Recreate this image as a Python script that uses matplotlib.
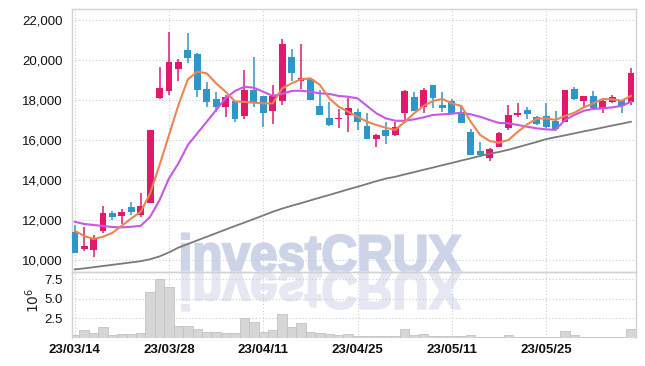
import numpy as np
import matplotlib
matplotlib.use('Agg')
import matplotlib.pyplot as plt
from matplotlib.ticker import FuncFormatter
from matplotlib.textpath import TextPath
from matplotlib.patches import PathPatch
from matplotlib.font_manager import FontProperties
from matplotlib.transforms import Affine2D

plt.rcParams['font.family'] = ['Liberation Sans', 'DejaVu Sans']

# Fechas de las sesiones (yy/mm/dd)
dates = ['23/03/14', '23/03/15', '23/03/16', '23/03/17', '23/03/20', '23/03/21', '23/03/22', '23/03/23', '23/03/24', '23/03/27',
         '23/03/28', '23/03/29', '23/03/30', '23/03/31', '23/04/03', '23/04/04', '23/04/05', '23/04/06', '23/04/07', '23/04/10',
         '23/04/11', '23/04/12', '23/04/13', '23/04/14', '23/04/17', '23/04/18', '23/04/19', '23/04/20', '23/04/21', '23/04/24',
         '23/04/25', '23/04/26', '23/04/27', '23/04/28', '23/05/02', '23/05/03', '23/05/04', '23/05/08', '23/05/09', '23/05/10',
         '23/05/11', '23/05/12', '23/05/15', '23/05/16', '23/05/17', '23/05/18', '23/05/19', '23/05/22', '23/05/23', '23/05/24',
         '23/05/25', '23/05/26', '23/05/30', '23/05/31', '23/06/01', '23/06/02', '23/06/05', '23/06/07', '23/06/08', '23/06/09']

opens = [11400, 10570, 10520, 11480, 12370, 12220, 12670, 12280, 12880, 18130,
         18480, 19580, 20520, 20320, 18550, 18050, 17680, 17970, 17220, 18520,
         18220, 17480, 17980, 20150, 18980, 19050, 17720, 17120, 17050, 17270,
         17400, 16720, 16080, 16520, 16250, 17350, 18150, 17680, 18750, 17750,
         17970, 17400, 16400, 15470, 15100, 15680, 16630, 17280, 17520, 17150,
         17200, 16970, 16930, 18570, 17980, 18200, 17630, 17920, 18000, 17930]
highs = [11770, 11650, 11270, 12730, 12470, 12580, 12900, 13350, 16520, 19680,
         21430, 20050, 21350, 20370, 18900, 18400, 18270, 17970, 19520, 20150,
         18220, 18750, 21070, 20550, 20800, 19100, 18520, 17930, 17550, 18100,
         17550, 17350, 16300, 16930, 16930, 18520, 18400, 18630, 18750, 18400,
         18070, 17770, 16550, 15930, 15630, 16430, 17750, 17850, 17650, 17230,
         17850, 17470, 18520, 18650, 18200, 18470, 18050, 18270, 18000, 19600]
lows = [10380, 10470, 10150, 11350, 12020, 11820, 12270, 12150, 12880, 18050,
        18250, 18950, 19880, 18150, 17650, 17420, 17180, 16930, 17080, 17680,
        16650, 16800, 17770, 18970, 18550, 18000, 17280, 16720, 16600, 16400,
        16520, 16070, 15650, 15800, 16220, 16880, 17450, 17380, 17600, 17400,
        17380, 16880, 15280, 15180, 14970, 15650, 16520, 17180, 17050, 16770,
        16600, 16520, 16930, 18020, 17680, 17550, 17380, 17850, 17350, 17770]
closes = [10380, 10720, 11070, 12350, 12180, 12420, 12420, 12720, 16520, 18600,
          19900, 19900, 20130, 18530, 17930, 17680, 18150, 17070, 18520, 17850,
          17380, 18220, 20820, 19380, 19120, 18020, 17280, 16770, 17120, 17600,
          16930, 16080, 16270, 16220, 16680, 18470, 17480, 18520, 18130, 17630,
          17380, 16880, 15280, 15270, 15550, 16350, 17250, 17350, 17320, 16830,
          16680, 16580, 18500, 18070, 18200, 17620, 17970, 18150, 17720, 19350]

# Medias moviles
ma5 = [11480, 11220, 11070, 11180, 11380, 11730, 12100, 12430, 13350, 14770,
       16270, 17770, 19050, 19430, 19350, 18850, 18430, 17950, 17920, 17880,
       17850, 17850, 18600, 18850, 19050, 19100, 18770, 18100, 17680, 17430,
       17180, 16930, 16770, 16630, 16520, 16930, 17350, 17720, 17970, 18070,
       17850, 17720, 16930, 16270, 15970, 15880, 16020, 16430, 16800, 17080,
       17100, 17020, 17220, 17380, 17650, 17850, 18070, 18050, 17980, 18220]
ma20 = [11930, 11820, 11770, 11720, 11670, 11650, 11680, 11730, 12180, 13020,
        14100, 14850, 15770, 16350, 16930, 17520, 18100, 18470, 18680, 18630,
        18430, 18220, 18320, 18470, 18480, 18430, 18350, 18320, 18220, 18180,
        18100, 17720, 17350, 17100, 16980, 16980, 17050, 17150, 17270, 17300,
        17330, 17380, 17300, 17180, 17020, 16870, 16850, 16770, 16680, 16600,
        16550, 16520, 17020, 17270, 17480, 17570, 17600, 17650, 17720, 17930]
ma_long = [9550, 9600, 9660, 9720, 9780, 9840, 9900, 9960, 10060, 10200,
           10400, 10640, 10820, 11000, 11180, 11360, 11540, 11720, 11890, 12070,
           12250, 12430, 12590, 12730, 12860, 13000, 13140, 13270, 13410, 13550,
           13680, 13820, 13960, 14090, 14180, 14300, 14410, 14530, 14640, 14760,
           14870, 14990, 15100, 15220, 15330, 15420, 15530, 15660, 15790, 15920,
           16060, 16160, 16250, 16350, 16450, 16540, 16640, 16740, 16830, 16930]

# Volumen en millones
volume = [0.38, 1.0, 0.59, 1.39, 0.34, 0.5, 0.5, 0.63, 5.8, 7.52,
          6.5, 1.47, 1.47, 1.09, 0.76, 0.76, 0.63, 0.63, 2.52, 2.1,
          0.76, 1.0, 3.02, 1.34, 1.97, 0.76, 0.63, 0.5, 0.42, 0.5,
          0.3, 0.2, 0.2, 0.2, 0.2, 1.1, 0.4, 0.46, 0.3, 0.2,
          0.2, 0.2, 0.42, 0.15, 0.1, 0.15, 0.42, 0.15, 0.15, 0.15,
          0.15, 0.15, 0.95, 0.42, 0.15, 0.15, 0.15, 0.15, 0.15, 1.2]

RED = '#e2196b'
BLUE = '#2f96c9'
GRID = '#c6cce0'
W, H = 645, 366

o = np.array(opens); c = np.array(closes)
x = np.arange(len(closes))
colors = np.where(c >= o, RED, BLUE)

fig = plt.figure(figsize=(W / 100, H / 100), dpi=100)
fig.patch.set_facecolor('white')
ax = fig.add_axes([72 / W, 1 - 272 / H, 563.7 / W, 262.7 / H])
axv = fig.add_axes([72 / W, 1 - 338 / H, 563.7 / W, 66 / H], sharex=ax)

for a in (ax, axv):
    a.set_facecolor('none')
    a.grid(True, color=GRID, linestyle=(0, (1, 2)), lw=0.8)
    a.set_axisbelow(True)
    for s in a.spines.values():
        s.set_color('#d2d2d2')
        s.set_linewidth(1.0)
    a.tick_params(length=0, labelsize=9.5, colors='#111111')

# Velas
ax.vlines(x, lows, highs, colors=colors, lw=1.1, zorder=2)
ax.bar(x, np.maximum(np.abs(c - o), 60), bottom=np.minimum(o, c), width=0.72,
       color=colors, zorder=3)

ax.plot(x, ma_long, color='#7a7a7a', lw=1.3, zorder=4)
ax.plot(x, ma20, color='#cc55ea', lw=1.5, zorder=4)
ax.plot(x, ma5, color='#ef8450', lw=1.5, zorder=4)

ax.set_xlim(-0.29, 59.5)
ax.set_ylim(9420, 22550)
ax.set_yticks(range(10000, 22001, 2000))
ax.yaxis.set_major_formatter(FuncFormatter(lambda v, p: f'{int(v):,}'))
ax.tick_params(labelbottom=False, pad=6.5)
ax.set_xticks(x[::10])

# Volumen
axv.bar(x, volume, width=1.0, color='#d6d6d6', edgecolor='#c2c2c2', lw=0.6, zorder=2)
axv.set_ylim(0, 8.4)
axv.set_yticks([2.5, 5.0, 7.5])
axv.set_xticks(x[::10])
axv.set_xticklabels(dates[::10], fontsize=9.5, fontweight='bold')
axv.tick_params(axis='y', pad=6.5)
axv.tick_params(axis='x', pad=4)
axv.spines['bottom'].set_visible(False)
fig.text(33 / W, 1 - 300 / H, '$10^6$', rotation=90, ha='center', va='center',
         fontsize=10, color='#222222')

# Marca de agua
fp = FontProperties(family='Liberation Sans', weight='bold')
tp = TextPath((0, 0), 'investCRUX', size=1, prop=fp)
bb = tp.get_extents()
sx = 279 / bb.width
sy = 38 / 0.716
base_y = H - 272
wm = PathPatch(tp, transform=Affine2D().translate(-bb.x0, 0).scale(sx, sy).translate(182, base_y),
               facecolor='#cdd4e8', edgecolor='#cdd4e8', lw=1.6, zorder=-1)
fig.add_artist(wm)
wm2 = PathPatch(tp, transform=Affine2D().translate(-bb.x0, 0).scale(sx, -sy).translate(182, base_y),
                facecolor='#e5e8f2', edgecolor='#e5e8f2', lw=1.6, zorder=-1)
fig.add_artist(wm2)

fig.savefig('out.png', dpi=100, facecolor='white')
